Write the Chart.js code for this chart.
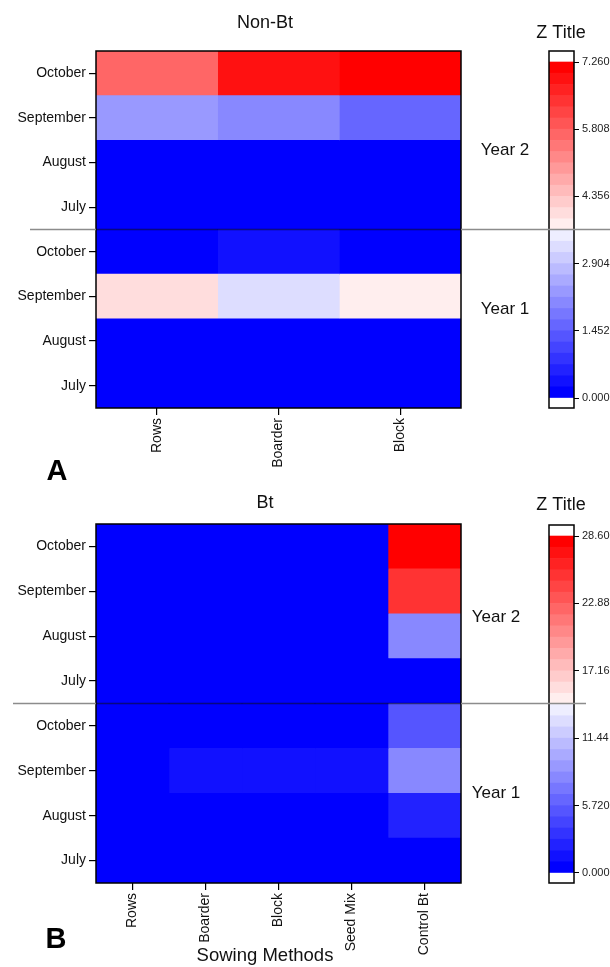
<!DOCTYPE html>
<html lang="en">
<head>
    <meta charset="UTF-8">
    <title>Non-Bt / Bt heatmaps</title>
    <script src="https://cdn.jsdelivr.net/npm/chart.js"></script>
    <style>
        body {
            margin: 0;
            background: #fff;
            font-family: "Liberation Sans", Arial, sans-serif;
        }
        #page {
            position: relative;
            width: 610px;
            height: 967px;
            overflow: hidden;
        }
        canvas {
            position: absolute;
        }
        .lbl {
            position: absolute;
            transform: translate(-50%, -50%);
            white-space: nowrap;
            color: #111;
            font-size: 17px;
        }
        .panel {
            font-weight: bold;
            font-size: 29px;
            color: #000;
        }
    </style>
</head>
<body>
<div id="page">
    <canvas id="zA" width="98" height="480" style="left:512px;top:0px"></canvas>
    <canvas id="heatA" width="530" height="480" style="left:0px;top:0px"></canvas>
    <canvas id="zB" width="98" height="487" style="left:512px;top:480px"></canvas>
    <canvas id="heatB" width="530" height="487" style="left:0px;top:480px"></canvas>

    <div class="lbl" style="left:505px;top:150px">Year 2</div>
    <div class="lbl" style="left:505px;top:309px">Year 1</div>
    <div class="lbl" style="left:496px;top:617px">Year 2</div>
    <div class="lbl" style="left:496px;top:793px">Year 1</div>
    <div class="lbl panel" style="left:57px;top:470px">A</div>
    <div class="lbl panel" style="left:56px;top:938px">B</div>
</div>

<script>
    // rows, top to bottom: Year 2 (Oct..Jul), then Year 1 (Oct..Jul)
    var monthLabels = ['October', 'September', 'August', 'July', 'October', 'September', 'August', 'July'];

    // panel A - Non-Bt
    var methodsA = ['Rows', 'Boarder', 'Block'];
    var nonBtRows = [5.65, 2.3, 0, 0, 0, 4.0, 0, 0];
    var nonBtBoarder = [6.85, 2.05, 0, 0, 0.35, 3.25, 0, 0];
    var nonBtBlock = [7.26, 1.55, 0, 0, 0, 3.7, 0, 0];
    var zTicksA = [0, 1.452, 2.904, 4.356, 5.808, 7.26];

    // panel B - Bt
    var methodsB = ['Rows', 'Boarder', 'Block', 'Seed Mix', 'Control Bt'];
    var btRows = [0, 0, 0, 0, 0, 0, 0, 0];
    var btBoarder = [0, 0, 0, 0, 0, 1.3, 0, 0];
    var btBlock = [0, 0, 0, 0, 0, 1.3, 0, 0];
    var btSeedMix = [0, 0, 0, 0, 0, 1.3, 0, 0];
    var btControl = [28.6, 25.2, 8.0, 0, 5.2, 8.3, 2.4, 0];
    var zTicksB = [0, 5.72, 11.44, 17.16, 22.88, 28.6];

    var BANDS = 30;
    Chart.defaults.font.family = '"Liberation Sans", Arial, sans-serif';
    Chart.defaults.color = '#111';

    // blue -> white -> red, in discrete bands like the colour bar
    function bandColor(k) {
        var half = BANDS / 2;
        if (k < half) {
            var c = Math.round(255 * k / half);
            return 'rgb(' + c + ',' + c + ',255)';
        }
        var c2 = Math.round(255 * (1 - (k - half + 1) / half));
        return 'rgb(255,' + c2 + ',' + c2 + ')';
    }

    function cellColor(v, zMax) {
        var k = Math.floor(v / zMax * BANDS + 1e-9);
        return bandColor(Math.max(0, Math.min(BANDS - 1, k)));
    }

    // empty axis, only used to reserve room so the titles sit where they should
    function spacerAxis(pos, w) {
        return {
            type: 'linear',
            position: pos,
            display: true,
            grid: { display: false },
            border: { display: false },
            ticks: { display: false },
            afterFit: function(s) { s.width = w; }
        };
    }

    // black frame round the plot area
    var framePlugin = {
        id: 'frame',
        afterDatasetsDraw: function(chart) {
            var a = chart.chartArea, ctx = chart.ctx;
            ctx.save();
            ctx.strokeStyle = '#000';
            ctx.lineWidth = 1.5;
            ctx.strokeRect(a.left, a.top, a.right - a.left, a.bottom - a.top);
            ctx.restore();
        }
    };

    function dividerY(heat) {
        var y = heat.scales.y;
        return (y.getPixelForValue(3) + y.getPixelForValue(4)) / 2;
    }

    function makeHeatmap(id, title, titlePad, methods, columns, zMax, opt) {
        var datasets = columns.map(function(vals, i) {
            return {
                label: methods[i],
                data: vals.map(function() { return 1; }),
                backgroundColor: vals.map(function(v) { return cellColor(v, zMax); }),
                borderWidth: 0,
                barPercentage: 1,
                categoryPercentage: 1
            };
        });
        return new Chart(document.getElementById(id), {
            type: 'bar',
            data: { labels: monthLabels, datasets: datasets },
            options: {
                indexAxis: 'y',
                responsive: false,
                animation: false,
                layout: { padding: 0 },
                plugins: {
                    legend: { display: false },
                    tooltip: { enabled: false },
                    title: {
                        display: true,
                        text: title,
                        color: '#111',
                        font: { size: 18, weight: 'normal', lineHeight: 1.2 },
                        padding: titlePad
                    },
                    subtitle: {
                        display: !!opt.subtitle,
                        text: opt.subtitle || '',
                        position: 'bottom',
                        color: '#111',
                        font: { size: 18.5, lineHeight: 1.2 },
                        padding: { top: -22.2, bottom: 0 }
                    }
                },
                scales: {
                    x: {
                        type: 'linear',
                        stacked: true,
                        min: 0,
                        max: methods.length,
                        border: { display: false },
                        grid: { drawOnChartArea: false, drawTicks: true, tickLength: 7, color: '#000', lineWidth: 1.2 },
                        afterBuildTicks: function(s) {
                            s.ticks = methods.map(function(m, i) { return { value: i + 0.5 }; });
                        },
                        afterFit: function(s) { s.height = opt.xHeight; },
                        ticks: {
                            autoSkip: false,
                            minRotation: 90,
                            maxRotation: 90,
                            padding: 3,
                            color: '#111',
                            font: { size: 14 },
                            callback: function(v, i) { return methods[i]; }
                        }
                    },
                    y: {
                        stacked: true,
                        border: { display: false },
                        grid: { offset: false, drawOnChartArea: false, drawTicks: true, tickLength: 7, color: '#000', lineWidth: 1.2 },
                        afterFit: function(s) { s.width = 96; },
                        ticks: { padding: 3, color: '#111', font: { size: 14 } }
                    },
                    pad: spacerAxis('right', 69)
                }
            },
            plugins: [framePlugin, {
                id: 'divider',
                afterDraw: function(chart) {
                    var a = chart.chartArea, ctx = chart.ctx;
                    var y = dividerY(chart);
                    ctx.save();
                    ctx.lineWidth = 1.5;
                    ctx.strokeStyle = '#8c8c8c';
                    ctx.beginPath();
                    ctx.moveTo(opt.lineStart, y); ctx.lineTo(a.left, y);
                    ctx.moveTo(a.right, y); ctx.lineTo(512, y);
                    ctx.stroke();
                    ctx.strokeStyle = 'rgba(0,0,0,0.5)';
                    ctx.beginPath();
                    ctx.moveTo(a.left, y); ctx.lineTo(a.right, y);
                    ctx.stroke();
                    ctx.restore();
                }
            }]
        });
    }

    function makeColorbar(id, heat, zMax, zTicks, titlePad, bottomPad, lineEnd) {
        var bw = zMax / BANDS;
        var datasets = [];
        for (var k = 0; k < BANDS; k++) {
            datasets.push({
                data: [bw],
                backgroundColor: bandColor(k),
                borderWidth: 0,
                barPercentage: 1,
                categoryPercentage: 1
            });
        }
        return new Chart(document.getElementById(id), {
            type: 'bar',
            data: { labels: ['z'], datasets: datasets },
            options: {
                responsive: false,
                animation: false,
                layout: { padding: { left: 0, right: 0, top: 0, bottom: bottomPad } },
                plugins: {
                    legend: { display: false },
                    tooltip: { enabled: false },
                    title: {
                        display: true,
                        text: 'Z Title',
                        color: '#111',
                        font: { size: 18, weight: 'normal', lineHeight: 1.2 },
                        padding: titlePad
                    }
                },
                scales: {
                    x: { display: false, stacked: true },
                    y: {
                        position: 'right',
                        stacked: true,
                        min: -zMax * 10 / 336,
                        max: zMax + zMax * 11 / 336,
                        border: { display: false },
                        grid: { drawOnChartArea: false, drawTicks: true, tickLength: 5, color: '#000' },
                        afterBuildTicks: function(s) {
                            s.ticks = zTicks.map(function(v) { return { value: v }; });
                        },
                        afterFit: function(s) { s.width = 36; },
                        ticks: {
                            padding: 3,
                            color: '#222',
                            font: { size: 11 },
                            callback: function(v) { return Number(v).toPrecision(4); }
                        }
                    },
                    pad: spacerAxis('left', 37)
                }
            },
            plugins: [framePlugin, {
                id: 'dividerTail',
                afterDraw: function(chart) {
                    var ctx = chart.ctx, y = dividerY(heat);
                    ctx.save();
                    ctx.lineWidth = 1.5;
                    ctx.strokeStyle = '#8c8c8c';
                    ctx.beginPath();
                    ctx.moveTo(0, y); ctx.lineTo(lineEnd, y);
                    ctx.stroke();
                    ctx.restore();
                }
            }]
        });
    }

    var heatA = makeHeatmap('heatA', 'Non-Bt', { top: 12.2, bottom: 17.2 }, methodsA,
        [nonBtRows, nonBtBoarder, nonBtBlock], zTicksA[zTicksA.length - 1],
        { xHeight: 72, lineStart: 30 });
    makeColorbar('zA', heatA, zTicksA[zTicksA.length - 1], zTicksA, { top: 22.2, bottom: 7.2 }, 72, 98);

    var heatB = makeHeatmap('heatB', 'Bt', { top: 12.2, bottom: 10.2 }, methodsB,
        [btRows, btBoarder, btBlock, btSeedMix, btControl], zTicksB[zTicksB.length - 1],
        { xHeight: 84, lineStart: 13, subtitle: 'Sowing Methods' });
    makeColorbar('zB', heatB, zTicksB[zTicksB.length - 1], zTicksB, { top: 14.2, bottom: 9.2 }, 84, 74);
</script>
</body>
</html>
